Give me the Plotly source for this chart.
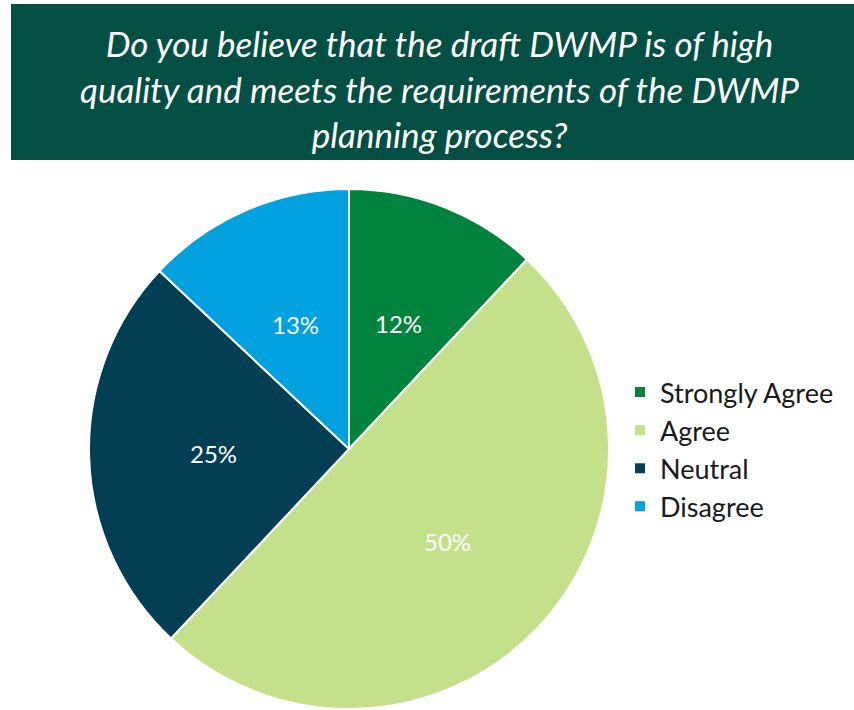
import math
import plotly.graph_objects as go

# Survey responses
categories = ["Strongly Agree", "Agree", "Neutral", "Disagree"]
percentages = [12, 50, 25, 13]
colors = ["#00843D", "#C5E08B", "#023F54", "#00A1DE"]

title_text = ("Do you believe that the draft DWMP is of high<br>"
              "quality and meets the requirements of the DWMP<br>"
              "planning process?")

W, H = 854, 710
cx, cy, r = 349, 449, 260
label_radius = 0.52  # fraction of the pie radius where value labels sit

fig = go.Figure(go.Pie(
    labels=categories,
    values=percentages,
    textinfo="none",
    marker=dict(colors=colors, line=dict(color="white", width=2)),
    sort=False,
    direction="clockwise",
    rotation=0,
    hoverinfo="label+percent",
    domain=dict(x=[(cx - r) / W, (cx + r) / W],
                y=[max(0, 1 - (cy + r) / H), 1 - (cy - r) / H]),
))

# Value labels placed at each slice's mid-angle (clockwise from 12 o'clock)
annotations = []
total = sum(percentages)
cum = 0
for v in percentages:
    mid = (cum + v / 2) / total * 2 * math.pi
    cum += v
    px = cx + label_radius * r * math.sin(mid)
    py = cy - label_radius * r * math.cos(mid)
    annotations.append(dict(
        text=f"{v}%", xref="paper", yref="paper",
        x=px / W, y=1 - py / H, xanchor="center", yanchor="middle",
        showarrow=False,
        font=dict(family="Lato", size=24, color="white"),
    ))

annotations.append(dict(
    text=title_text, xref="paper", yref="paper",
    x=439 / W, y=1 - 88 / H, xanchor="center", yanchor="middle",
    showarrow=False, align="center",
    font=dict(family="Lato", size=35, color="white", style="italic"),
))

fig.update_layout(
    width=W, height=H,
    margin=dict(l=0, r=0, t=0, b=0),
    paper_bgcolor="white",
    plot_bgcolor="white",
    showlegend=True,
    legend=dict(
        x=620 / W, y=1 - 368 / H, xanchor="left", yanchor="top",
        font=dict(family="Lato", size=27, color="#1a1a1a"),
        bgcolor="rgba(0,0,0,0)",
        itemwidth=30,
    ),
    shapes=[dict(type="rect", xref="paper", yref="paper",
                 x0=11 / W, x1=1, y0=1 - 160 / H, y1=1 - 4 / H,
                 fillcolor="#044F43", line=dict(width=0), layer="below")],
    annotations=annotations,
)

fig.write_html("out.html")
